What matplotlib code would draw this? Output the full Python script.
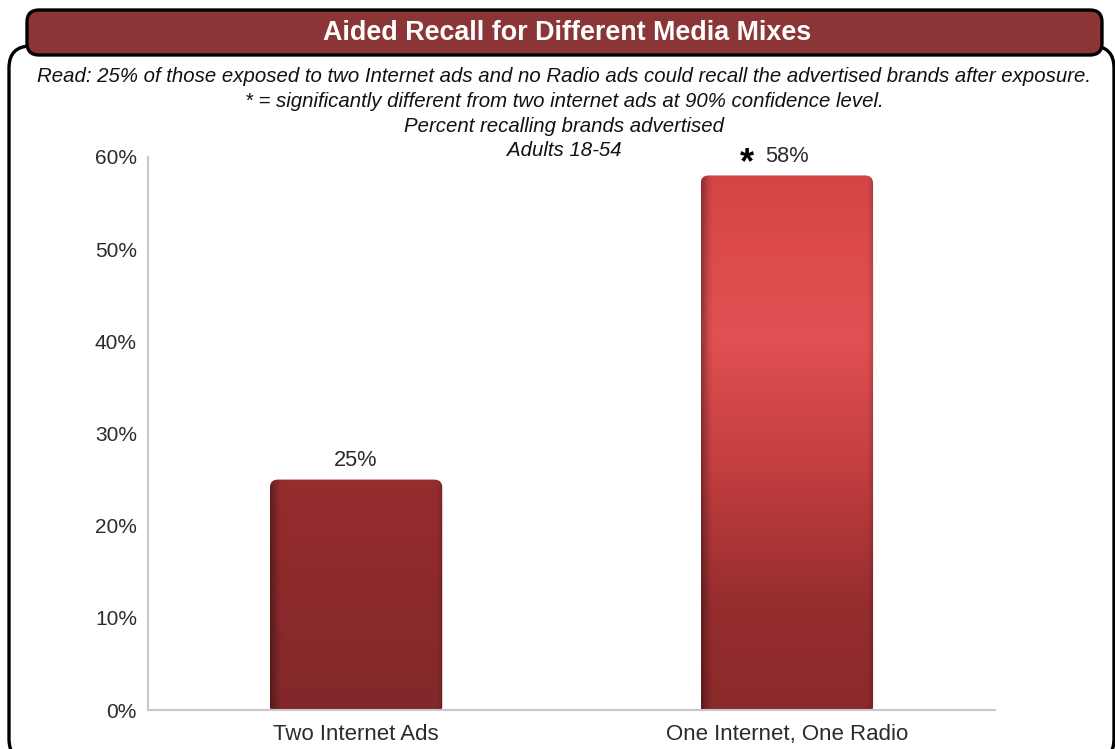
import numpy as np
import matplotlib.pyplot as plt
from matplotlib.patches import FancyBboxPatch
from matplotlib.colors import to_rgb
from matplotlib.ticker import FuncFormatter

plt.rcParams['font.family'] = ['Liberation Sans', 'DejaVu Sans']

# data
categories = ["Two Internet Ads", "One Internet, One Radio"]
recall_pct = [25, 58]
significant = [False, True]
y_ticks = [0, 10, 20, 30, 40, 50, 60]

title = "Aided Recall for Different Media Mixes"
subtitle_lines = [
    "Read: 25% of those exposed to two Internet ads and no Radio ads could recall the advertised brands after exposure.",
    "* = significantly different from two internet ads at 90% confidence level.",
    "Percent recalling brands advertised",
    "Adults 18-54",
]

# vertical colour stops for each bar (fraction of bar height from bottom, colour)
bar_stops = [
    [(0.0, "#82282A"), (0.6, "#8E2A2C"), (1.0, "#962D2F")],
    [(0.0, "#8A292B"), (0.2, "#962D2F"), (0.45, "#C23E3F"),
     (0.7, "#E15052"), (0.88, "#DC4A4B"), (1.0, "#D64546")],
]

W, H = 1115, 749
fig = plt.figure(figsize=(W / 100, H / 100), dpi=100)

# background layer in pixel coordinates for the framed panel
bg = fig.add_axes([0, 0, 1, 1], zorder=0)
bg.set_xlim(0, W)
bg.set_ylim(H, 0)
bg.axis("off")

frame = FancyBboxPatch((9, 46), 1105, 715, boxstyle="round,pad=0,rounding_size=22",
                       facecolor="white", edgecolor="black", lw=2.4)
bg.add_patch(frame)
banner = FancyBboxPatch((27, 10), 1075, 45, boxstyle="round,pad=0,rounding_size=12",
                        facecolor="#8B3537", edgecolor="black", lw=2.4)
bg.add_patch(banner)
bg.text(567, 33, title, color="white", fontsize=19.4, fontweight="bold",
        ha="center", va="center")

for i, line in enumerate(subtitle_lines):
    bg.text(564, 77 + i * 24.5, line, fontsize=14.7, style="italic",
            ha="center", va="center", color="#111111")

# chart axes
ax = fig.add_axes([148 / W, 1 - 710 / H, (995 - 148) / W, (710 - 157) / H], zorder=1)
ax.patch.set_alpha(0)

x = np.arange(len(categories))
bars = ax.bar(x, recall_pct, width=0.4, color="none", edgecolor="none")

ax.set_xlim(-0.483, 1.483)
ax.set_ylim(0, 60)
ax.set_yticks(y_ticks)
ax.yaxis.set_major_formatter(FuncFormatter(lambda v, p: f"{v:.0f}%"))
ax.set_xticks(x)
ax.set_xticklabels(categories)
ax.tick_params(length=0, labelsize=15, colors="#2b2b2b")
ax.tick_params(axis="x", pad=10, labelsize=16)
ax.tick_params(axis="y", pad=8)
for s in ["top", "right"]:
    ax.spines[s].set_visible(False)
for s in ["left", "bottom"]:
    ax.spines[s].set_color("#c8c8c8")
    ax.spines[s].set_linewidth(1.5)

# rounded gradient bars
px_x = (995 - 148) / (ax.get_xlim()[1] - ax.get_xlim()[0])
px_y = (710 - 157) / 60.0
r_px = 8
for rect, stops in zip(bars, bar_stops):
    x0, w, h = rect.get_x(), rect.get_width(), rect.get_height()
    y0 = -4 / px_y
    top = h
    box = FancyBboxPatch((x0, y0), w, top - y0,
                         boxstyle=f"round,pad=0,rounding_size={r_px / px_x}",
                         mutation_aspect=px_x / px_y,
                         facecolor="none", edgecolor="none", clip_on=False)
    ax.add_patch(box)

    ny, nx = 200, 120
    fy = np.linspace(0, 1, ny)
    pos = [s[0] for s in stops]
    cols = np.array([to_rgb(s[1]) for s in stops])
    grad = np.stack([np.interp(fy, pos, cols[:, k]) for k in range(3)], axis=-1)
    fx = np.linspace(0, 1, nx)
    shade = np.ones(nx)
    shade -= 0.35 * np.clip(1 - fx / 0.07, 0, 1) ** 1.5
    shade -= 0.18 * np.clip(1 - (1 - fx) / 0.04, 0, 1) ** 1.5
    img = grad[:, None, :] * shade[None, :, None]
    im = ax.imshow(np.clip(img, 0, 1), extent=[x0, x0 + w, y0, top], origin="lower",
                   aspect="auto", interpolation="bilinear", zorder=2)
    im.set_clip_path(box)
    im.set_clip_box(None)

for xi, v, sig in zip(x, recall_pct, significant):
    ax.annotate(f"{v}%", (xi, v), xytext=(0, 6), textcoords="offset points",
                ha="center", va="bottom", fontsize=15.7, color="#2b2b2b")
    if sig:
        ax.annotate("*", (xi, v), xytext=(-29, -4), textcoords="offset points",
                    ha="center", va="bottom", fontsize=26, fontweight="bold",
                    color="black")

fig.savefig("out.png", dpi=100)
